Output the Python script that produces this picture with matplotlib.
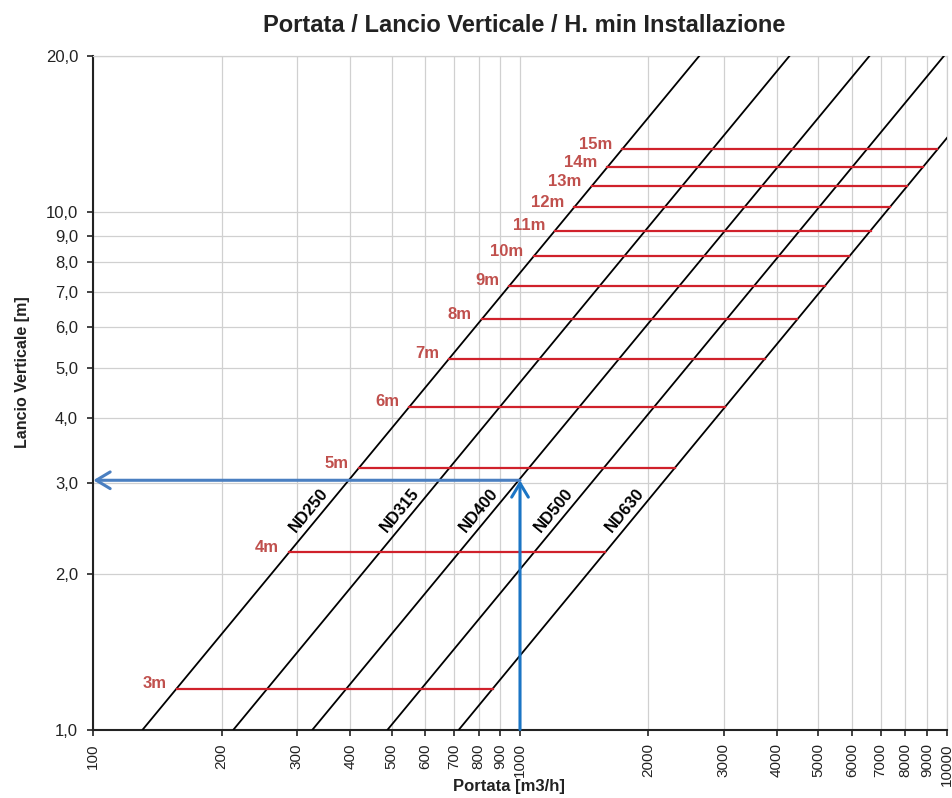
import numpy as np
import matplotlib
matplotlib.use("Agg")
import matplotlib.pyplot as plt

plt.rcParams['font.family'] = ['Liberation Sans', 'DejaVu Sans']

# ---- data ----
duct_names = ["ND250", "ND315", "ND400", "ND500", "ND630"]
# flow rate [m3/h] where each duct line is at 1 m and at 20 m vertical throw
duct_q_at_1m = [130.6, 213.2, 326.6, 489.8, 719.6]
duct_q_at_20m = [2630, 4280, 6590, 9850, 14420]

install_labels = ["3m", "4m", "5m", "6m", "7m", "8m", "9m", "10m", "11m",
                  "12m", "13m", "14m", "15m"]
install_throw = [1.2, 2.2, 3.2, 4.2, 5.2, 6.2, 7.2, 8.2, 9.2, 10.2, 11.2, 12.2, 13.2]

example_flow = 1000
example_throw = 3.03

x_ticks = [100, 200, 300, 400, 500, 600, 700, 800, 900, 1000,
           2000, 3000, 4000, 5000, 6000, 7000, 8000, 9000, 10000]
y_ticks = [1, 2, 3, 4, 5, 6, 7, 8, 9, 10, 20]
y_tick_labels = ["1,0", "2,0", "3,0", "4,0", "5,0", "6,0", "7,0", "8,0",
                 "9,0", "10,0", "20,0"]

# ---- figure ----
W, H = 953, 798
fig = plt.figure(figsize=(W / 100, H / 100), dpi=100)
L, R, T, B = 93.3, 946.7, 56, 729.5
ax = fig.add_axes([L / W, 1 - B / H, (R - L) / W, (B - T) / H])
ax.set_xscale('log')
ax.set_yscale('log')
ax.set_xlim(100, 10000)
ax.set_ylim(1, 20)

grid_c = '#d0d0d0'
ax.set_xticks(x_ticks)
ax.set_xticklabels([str(v) for v in x_ticks], rotation=90, fontsize=11, color='#222222')
ax.set_xticks([], minor=True)
ax.set_yticks(y_ticks)
ax.set_yticklabels(y_tick_labels, fontsize=12, color='#222222')
ax.set_yticks([], minor=True)
ax.grid(True, which='major', color=grid_c, lw=0.9, zorder=0)
ax.set_axisbelow(True)
ax.tick_params(axis='x', length=4, width=1.2, pad=6, color='#222222')
ax.tick_params(axis='y', length=4, width=1.2, pad=7, color='#222222')
for s in ['top', 'right']:
    ax.spines[s].set_color(grid_c)
    ax.spines[s].set_linewidth(0.9)
for s in ['left', 'bottom']:
    ax.spines[s].set_color('#222222')
    ax.spines[s].set_linewidth(1.5)

# duct lines
lq1 = np.log10(duct_q_at_1m)
lq20 = np.log10(duct_q_at_20m)
for q1, q20 in zip(duct_q_at_1m, duct_q_at_20m):
    ax.plot([q1, q20], [1, 20], color='black', lw=1.3, zorder=3, clip_on=True)


def q_on_line(i, h):
    t = np.log10(h) / np.log10(20)
    return 10 ** (lq1[i] + t * (lq20[i] - lq1[i]))


# installation-height lines
red_line = '#d0212b'
red_text = '#c0504d'
for lab, h in zip(install_labels, install_throw):
    xs = q_on_line(0, h)
    xe = q_on_line(len(duct_names) - 1, h)
    ax.plot([xs, xe], [h, h], color=red_line, lw=1.6, zorder=4)
    ax.annotate(lab, xy=(xs, h), xytext=(-10, 5), textcoords='offset pixels',
                ha='right', va='center', fontsize=12, fontweight='bold',
                color=red_text, zorder=6)

# duct labels
p1 = ax.transData.transform((duct_q_at_1m[0], 1))
p2 = ax.transData.transform((duct_q_at_20m[0], 20))
ang = np.degrees(np.arctan2(p2[1] - p1[1], p2[0] - p1[0]))
for i, name in enumerate(duct_names):
    hy = 2.65
    ax.annotate(name, xy=(q_on_line(i, hy), hy), xytext=(-15, 0),
                textcoords='offset pixels', ha='center', va='center',
                rotation=ang, rotation_mode='anchor', fontsize=12,
                fontweight='bold', color='black', zorder=6)

# example arrows
ax.annotate('', xy=(example_flow, example_throw), xytext=(example_flow, 1),
            arrowprops=dict(arrowstyle='->,head_length=0.5,head_width=0.3',
                            color='#1b75c5', lw=2.2, shrinkA=0, shrinkB=0,
                            mutation_scale=20),
            zorder=7, annotation_clip=False)
ax.annotate('', xy=(100, example_throw), xytext=(example_flow, example_throw),
            arrowprops=dict(arrowstyle='->,head_length=0.5,head_width=0.3',
                            color='#4a7fc1', lw=2.2, shrinkA=0, shrinkB=0,
                            mutation_scale=20),
            zorder=7, annotation_clip=False)

# titles
fig.text(524 / W, 1 - 26 / H, "Portata / Lancio Verticale / H. min Installazione",
         ha='center', va='center', fontsize=17, fontweight='bold', color='#222222')
fig.text(509 / W, 1 - 787 / H, "Portata [m3/h]", ha='center', va='center',
         fontsize=12, fontweight='bold', color='#222222')
fig.text(23 / W, 1 - 372 / H, "Lancio Verticale [m]", ha='center', va='center',
         rotation=90, fontsize=11.5, fontweight='bold', color='#222222')

fig.savefig('out.png', dpi=100)
